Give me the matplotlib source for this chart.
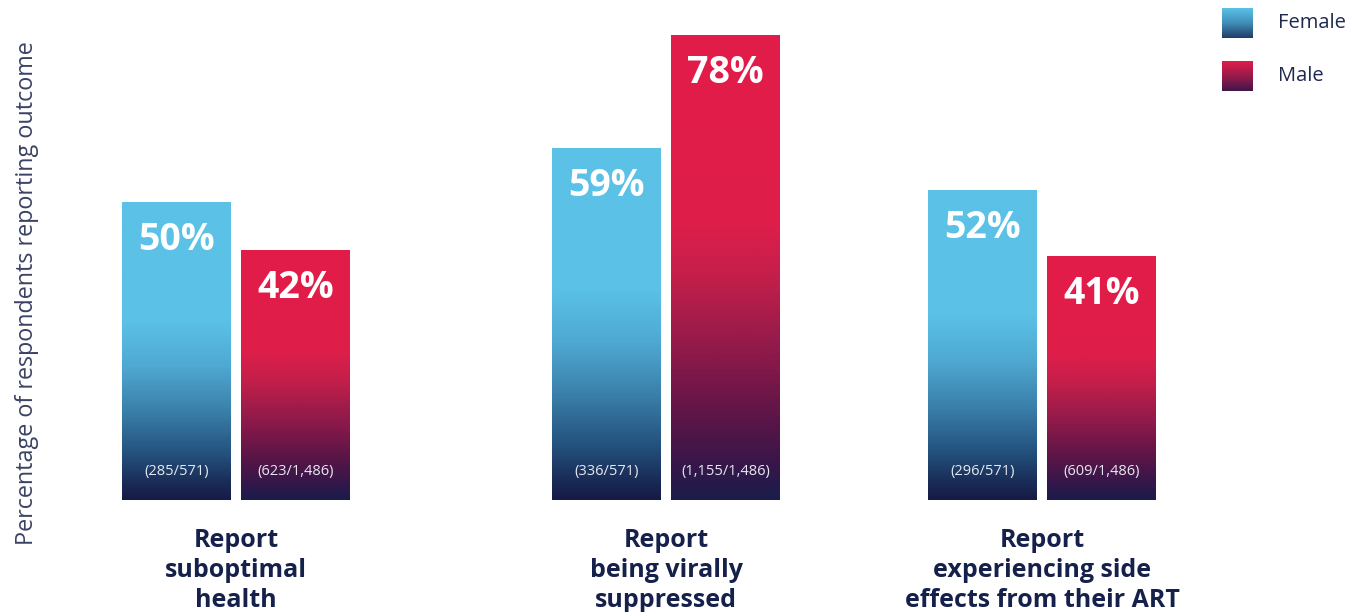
# Grouped bar chart: outcomes by sex, with vertical gradient bars
import numpy as np
import matplotlib.pyplot as plt
from matplotlib.colors import LinearSegmentedColormap

# Data
categories = ['Report\nsuboptimal\nhealth',
              'Report\nbeing virally\nsuppressed',
              'Report\nexperiencing side\neffects from their ART']
female_pct = [50, 59, 52]
male_pct = [42, 78, 41]
female_counts = ['(285/571)', '(336/571)', '(296/571)']
male_counts = ['(623/1,486)', '(1,155/1,486)', '(609/1,486)']
series_names = ['Female', 'Male']

# Layout (pixel-like units across the figure width)
W, H = 1353, 612
group_x = [236, 666, 1042]
bar_w = 109
offset = 59.5
bar_bottom_px = 500
px_per_pct = 5.95

NAVY = '#15204b'
TEXT_GREY = '#3b4263'

# gradients: value 0 = bottom of bar, 1 = top of bar
female_cmap = LinearSegmentedColormap.from_list('fem', [
    (0.0, '#161a45'), (0.06, '#1a2d58'), (0.15, '#23507c'),
    (0.3, '#3a80aa'), (0.45, '#4fa9d2'), (0.6, '#5bc1e6'), (1.0, '#5bc1e6')])
male_cmap = LinearSegmentedColormap.from_list('male', [
    (0.0, '#1a1d4a'), (0.07, '#35174a'), (0.17, '#5a1547'),
    (0.31, '#8b1a4a'), (0.48, '#c41f4a'), (0.6, '#df1e4a'), (1.0, '#e31c48')])

plt.rcParams['font.family'] = ['Open Sans', 'DejaVu Sans']

fig = plt.figure(figsize=(W / 100, H / 100), dpi=100)
ax = fig.add_axes([0, (H - bar_bottom_px) / H, 1, bar_bottom_px / H])
ax.set_xlim(0, W)
ax.set_ylim(0, bar_bottom_px / px_per_pct)
ax.axis('off')

grad = np.linspace(0, 1, 256).reshape(-1, 1)

fx = [g - offset for g in group_x]
mx = [g + offset for g in group_x]
fbars = ax.bar(fx, female_pct, width=bar_w, color='none')
mbars = ax.bar(mx, male_pct, width=bar_w, color='none')

for bars, cmap, counts in [(fbars, female_cmap, female_counts),
                           (mbars, male_cmap, male_counts)]:
    for b, cnt in zip(bars, counts):
        x0, w, h = b.get_x(), b.get_width(), b.get_height()
        ax.imshow(grad, extent=[x0, x0 + w, 0, h], origin='lower',
                  aspect='auto', cmap=cmap, zorder=2)
        ax.annotate(f'{h:.0f}%', xy=(x0 + w / 2, h), xytext=(0, -27),
                    textcoords='offset points', ha='center', va='center',
                    color='white', fontsize=27, fontweight='bold', zorder=3)
        ax.annotate(cnt, xy=(x0 + w / 2, 0), xytext=(0, 20.5),
                    textcoords='offset points', ha='center', va='center',
                    color='#e6e8ef', fontsize=10.5, zorder=3)

for g, cat in zip(group_x, categories):
    ax.annotate(cat, xy=(g, 0), xytext=(0, -20), textcoords='offset points',
                ha='center', va='top', color=NAVY, fontsize=18,
                fontweight='bold', linespacing=1.26, annotation_clip=False)

# y-axis label
fig.text(27 / W, 1 - 293 / H, 'Percentage of respondents reporting outcome',
         rotation=90, ha='center', va='center', color=TEXT_GREY, fontsize=16.8)

# legend with gradient swatches
for i, (name, cmap) in enumerate(zip(series_names, [female_cmap, male_cmap])):
    top = 8 + i * 53
    lax = fig.add_axes([1222 / W, 1 - (top + 30) / H, 31 / W, 30 / H])
    lax.imshow(grad, origin='lower', aspect='auto',
               cmap=LinearSegmentedColormap.from_list('s', [cmap(0.1), cmap(0.35), cmap(0.6)]))
    lax.axis('off')
    fig.text(1278 / W, 1 - (top + 15) / H, name, ha='left', va='center',
             color='#1e2850', fontsize=14.5)

fig.savefig('out.png', dpi=100)
